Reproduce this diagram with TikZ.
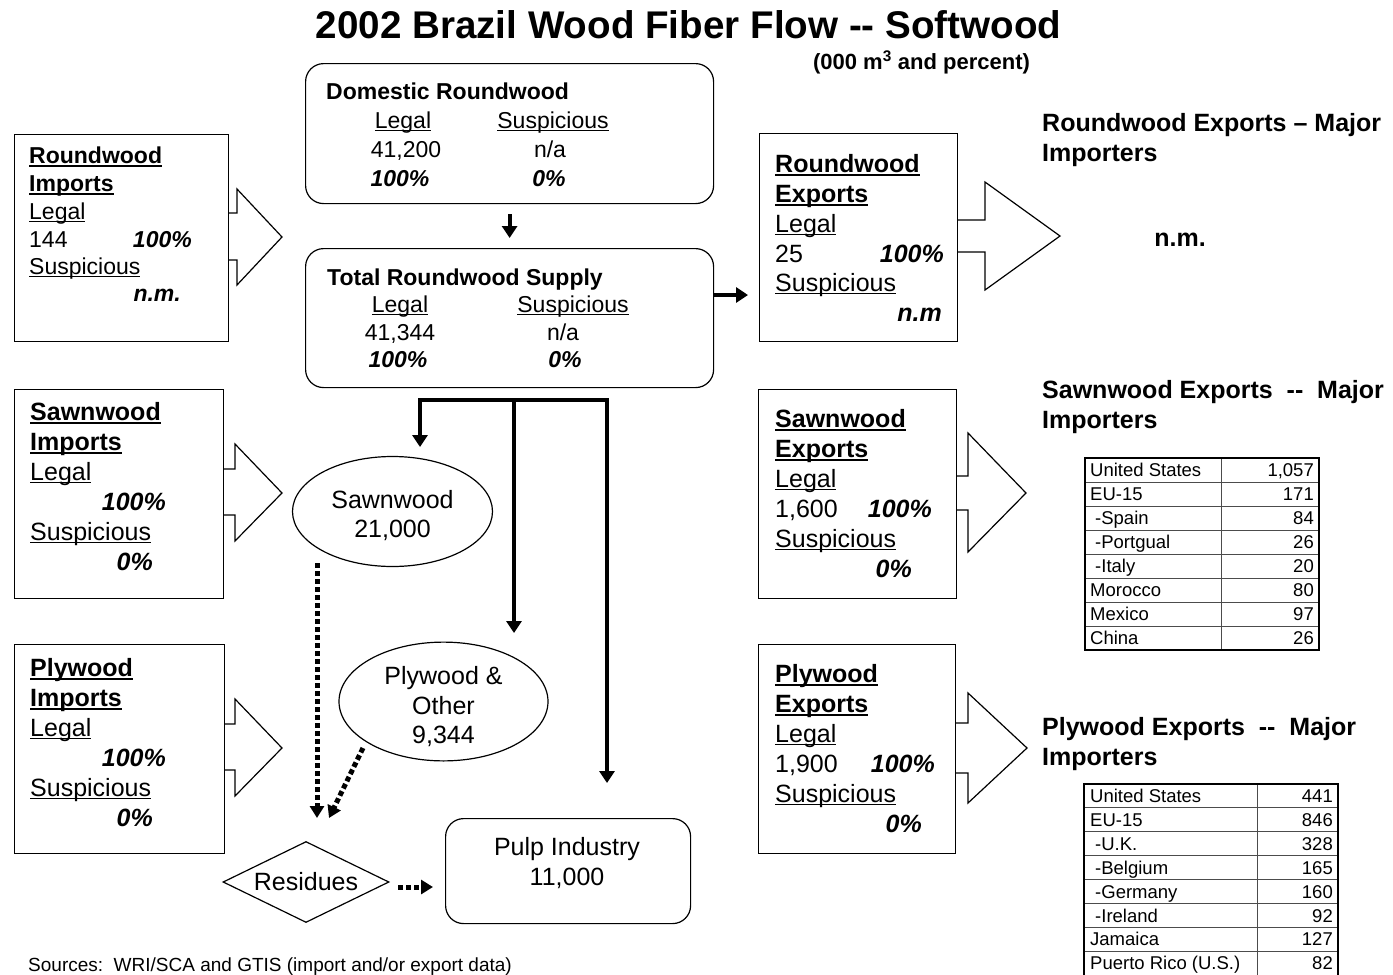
\documentclass[tikz,border=0pt]{standalone}
\usepackage{fontspec}
\setmainfont{Liberation Sans}
\usetikzlibrary{shapes.geometric,arrows.meta}
\newcommand\ulb[1]{\setbox0=\hbox{#1}\rlap{\rule[-3.6pt]{\wd0}{2pt}}\box0}
\newcommand\ulr[1]{\setbox0=\hbox{#1}\rlap{\rule[-3.2pt]{\wd0}{1.5pt}}\box0}
\newcommand\fszA{\fontsize{23pt}{28pt}\selectfont}
\newcommand\fszB{\fontsize{25pt}{29.5pt}\selectfont}
\newcommand\fszT{\fontsize{18.5pt}{22pt}\selectfont}
\newcommand\fszS{\fontsize{19pt}{22pt}\selectfont}
\begin{document}
\begin{tikzpicture}[x=1pt,y=-1pt,
  box/.style={draw, line width=1.2pt, anchor=north west, inner sep=0pt},
  rbox/.style={box, rounded corners=18pt},
  tl/.style={anchor=base west, inner sep=0pt},
  tc/.style={anchor=base, inner sep=0pt},
  tr/.style={anchor=base east, inner sep=0pt},
  flow/.style={line width=4pt, -{Triangle[width=15pt,length=12pt]}},
  dflow/.style={line width=5pt, dash pattern=on 5pt off 3pt, -{Triangle[width=14pt,length=12pt]}},
  barrow/.style={draw, line width=1.2pt, fill=white, line join=miter},
  oval/.style={ellipse, draw, line width=1.2pt, inner sep=0pt, align=center, font=\fszB, text depth=0pt},
  tline/.style={line width=0.9pt, black!70},
  bi/.style={font=\fszB\bfseries\itshape},
  bia/.style={font=\fszA\bfseries\itshape}
]
\useasboundingbox (0,0) rectangle (1393,975);
\fill[white] (0,0) rectangle (1393,975);

% title
\node[tc, font=\fontsize{38.6pt}{44pt}\selectfont\bfseries] (title) at (688.5,38) {2002 Brazil Wood Fiber Flow -{}- Softwood};
\node[tc, font=\fontsize{22pt}{26pt}\selectfont\bfseries] (sub) at (921.5,69) {(000 m\textsuperscript{3} and percent)};

% block arrows (drawn before boxes)
\draw[barrow] (228,213) -- (237,213) -- (237,189) -- (282,237) -- (237,285) -- (237,260) -- (228,260);
\draw[barrow] (223,469) -- (235,469) -- (235,444) -- (282,493) -- (235,541) -- (235,515) -- (223,515);
\draw[barrow] (224,724) -- (235,724) -- (235,699) -- (282,748) -- (235,796) -- (235,770) -- (224,770);
\draw[barrow] (957,220) -- (985,220) -- (985,182) -- (1060,236) -- (985,290) -- (985,252) -- (957,252);
\draw[barrow] (956,476) -- (968,476) -- (968,433) -- (1026,493) -- (968,552) -- (968,510) -- (956,510);
\draw[barrow] (955,723) -- (968,723) -- (968,693) -- (1027,748) -- (968,803) -- (968,773) -- (955,773);

% boxes
\node[box, minimum width=214pt, minimum height=207pt] (ri) at (14,134) {};
\node[box, minimum width=209pt, minimum height=209pt] (si) at (14,389) {};
\node[box, minimum width=210pt, minimum height=209pt] (pi) at (14,644) {};
\node[box, minimum width=198pt, minimum height=208pt] (re) at (759,133) {};
\node[box, minimum width=198pt, minimum height=209pt] (se) at (758,389) {};
\node[box, minimum width=197pt, minimum height=209pt] (pe) at (758,644) {};
\node[rbox, minimum width=408pt, minimum height=140pt] (dom) at (305,63) {};
\node[rbox, minimum width=408pt, minimum height=139pt] (trs) at (305,248) {};
\node[rbox, minimum width=245pt, minimum height=105pt] (pulp) at (445,818) {};
\node[oval, text height=52pt, minimum width=200pt, minimum height=110pt] (saw) at (392.5,511.5) {Sawnwood\\21,000};
\node[oval, text height=84pt, minimum width=209pt, minimum height=115pt] (ply) at (443.5,701.5) {Plywood \&\\Other\\9,344};
\node[diamond, draw, line width=1.2pt, aspect=2, minimum width=166pt, minimum height=81pt, inner sep=0pt, font=\fszB] (res) at (306,882) {Residues};

% domestic roundwood
\node[tl, font=\fszA\bfseries] (domt) at (326,99) {Domestic Roundwood};
\node[tc, font=\fszA] (doml) at (403,128) {\ulr{Legal}};
\node[tc, font=\fszA] (doms) at (553,128) {\ulr{Suspicious}};
\node[tc, font=\fszA] (domv) at (406,157) {41,200};
\node[tc, font=\fszA] (domn) at (550,157) {n/a};
\node[tc, bia] (domp) at (400,186) {100\%};
\node[tc, bia] (domq) at (549,186) {0\%};

% total roundwood supply
\node[tl, font=\fszA\bfseries] (trst) at (327,285) {Total Roundwood Supply};
\node[tc, font=\fszA] (trsl) at (400,312) {\ulr{Legal}};
\node[tc, font=\fszA] (trss) at (573,312) {\ulr{Suspicious}};
\node[tc, font=\fszA] (trsv) at (400,340) {41,344};
\node[tc, font=\fszA] (trsn) at (563,340) {n/a};
\node[tc, bia] (trsp) at (398,367) {100\%};
\node[tc, bia] (trsq) at (565,367) {0\%};

% roundwood imports
\node[tl, font=\fszA] (ri1) at (29,163) {\ulb{\textbf{Roundwood}}};
\node[tl, font=\fszA] (ri2) at (29,191) {\ulb{\textbf{Imports}}};
\node[tl, font=\fszA] (ri3) at (29,219) {\ulr{Legal}};
\node[tl, font=\fszA] (ri4) at (29,247) {144};
\node[tr, bia] (ri4p) at (192,247) {100\%};
\node[tl, font=\fszA] (ri5) at (29,274) {\ulr{Suspicious}};
\node[tr, bia] (ri6) at (181,301) {n.m.};

% sawnwood imports
\node[tl, font=\fszB] (si1) at (30,420) {\ulb{\textbf{Sawnwood}}};
\node[tl, font=\fszB] (si2) at (30,450) {\ulb{\textbf{Imports}}};
\node[tl, font=\fszB] (si3) at (30,480) {\ulr{Legal}};
\node[tr, bi] (si4) at (166,510) {100\%};
\node[tl, font=\fszB] (si5) at (30,540) {\ulr{Suspicious}};
\node[tr, bi] (si6) at (153,570) {0\%};

% plywood imports
\node[tl, font=\fszB] (pi1) at (30,676) {\ulb{\textbf{Plywood}}};
\node[tl, font=\fszB] (pi2) at (30,706) {\ulb{\textbf{Imports}}};
\node[tl, font=\fszB] (pi3) at (30,736) {\ulr{Legal}};
\node[tr, bi] (pi4) at (166,766) {100\%};
\node[tl, font=\fszB] (pi5) at (30,796) {\ulr{Suspicious}};
\node[tr, bi] (pi6) at (153,826) {0\%};

% roundwood exports
\node[tl, font=\fszB] (re1) at (775,172) {\ulb{\textbf{Roundwood}}};
\node[tl, font=\fszB] (re2) at (775,202) {\ulb{\textbf{Exports}}};
\node[tl, font=\fszB] (re3) at (775,232) {\ulr{Legal}};
\node[tl, font=\fszB] (re4) at (775,262) {25};
\node[tr, bi] (re4p) at (944,262) {100\%};
\node[tl, font=\fszB] (re5) at (775,291) {\ulr{Suspicious}};
\node[tr, bi] (re6) at (942,321) {n.m};

% sawnwood exports
\node[tl, font=\fszB] (se1) at (775,427) {\ulb{\textbf{Sawnwood}}};
\node[tl, font=\fszB] (se2) at (775,457) {\ulb{\textbf{Exports}}};
\node[tl, font=\fszB] (se3) at (775,487) {\ulr{Legal}};
\node[tl, font=\fszB] (se4) at (775,517) {1,600};
\node[tr, bi] (se4p) at (932,517) {100\%};
\node[tl, font=\fszB] (se5) at (775,547) {\ulr{Suspicious}};
\node[tr, bi] (se6) at (912,577) {0\%};

% plywood exports
\node[tl, font=\fszB] (pe1) at (775,682) {\ulb{\textbf{Plywood}}};
\node[tl, font=\fszB] (pe2) at (775,712) {\ulb{\textbf{Exports}}};
\node[tl, font=\fszB] (pe3) at (775,742) {\ulr{Legal}};
\node[tl, font=\fszB] (pe4) at (775,772) {1,900};
\node[tr, bi] (pe4p) at (935,772) {100\%};
\node[tl, font=\fszB] (pe5) at (775,802) {\ulr{Suspicious}};
\node[tr, bi] (pe6) at (922,832) {0\%};

% headings on the right
\node[tl, font=\fszB\bfseries] (h1a) at (1042,131) {Roundwood Exports – Major};
\node[tl, font=\fszB\bfseries] (h1b) at (1042,161) {Importers};
\node[tc, font=\fszB\bfseries] (h1n) at (1180,246) {n.m.};
\node[tl, font=\fszB\bfseries] (h2a) at (1042,398) {Sawnwood Exports~~-{}-~~Major};
\node[tl, font=\fszB\bfseries] (h2b) at (1042,428) {Importers};
\node[tl, font=\fszB\bfseries] (h3a) at (1042,735) {Plywood Exports~~-{}-~~Major};
\node[tl, font=\fszB\bfseries] (h3b) at (1042,765) {Importers};

% pulp industry text
\node[tc, font=\fszB] (pulp1) at (567,855) {Pulp Industry};
\node[tc, font=\fszB] (pulp2) at (567,885) {11,000};

% sources
\node[tl, font=\fszS] (src) at (28,971) {Sources:~~WRI/SCA and GTIS (import and/or export data)};

% flows
\draw[flow, shorten <=10pt, shorten >=10pt] (dom) -- (trs);
\draw[flow, shorten >=11pt] (trs.east |- 0,295) -- (re.west |- 0,295);
\coordinate (split) at (514,400);
\coordinate (sawin) at (420,447);
\coordinate (plyin) at (514,633);
\coordinate (pulpin) at (607,783);
\draw[flow] (split) -| (sawin);
\draw[flow] (split) -| (pulpin);
\draw[flow] (split) -- (plyin);
\coordinate (d1a) at (317,563);
\coordinate (d1b) at (317,818);
\coordinate (d2a) at (363,748);
\coordinate (d2b) at (329,818);
\coordinate (d3a) at (398,887);
\coordinate (d3b) at (433,887);
\draw[dflow] (d1a) -- (d1b);
\draw[dflow] (d2a) -- (d2b);
\draw[dflow] (d3a) -- (d3b);

% table 1
\foreach \i in {1,...,7} \draw[tline] (1085,458+24*\i) -- (1319,458+24*\i);
\draw[tline] (1221,458) -- (1221,650);
\draw[line width=2pt] (1085,458) rectangle (1319,650);
\foreach [count=\i] \a/\b in {United States/{1,057}, EU-15/171, \hspace{5pt}-Spain/84, \hspace{5pt}-Portgual/26, \hspace{5pt}-Italy/20, Morocco/80, Mexico/97, China/26} {
  \node[tl, font=\fszT] (ta\i) at (1090,476.5+24*\i-24) {\a};
  \node[tr, font=\fszT] (tb\i) at (1314,476.5+24*\i-24) {\b};
}

% table 2
\foreach \i in {1,...,7} \draw[tline] (1084,784+23.9*\i) -- (1338,784+23.9*\i);
\draw[tline] (1257,784) -- (1257,976);
\draw[line width=2pt] (1084,784) rectangle (1338,975.5);
\foreach [count=\i] \a/\b in {United States/441, EU-15/846, \hspace{5pt}-U.K./328, \hspace{5pt}-Belgium/165, \hspace{5pt}-Germany/160, \hspace{5pt}-Ireland/92, Jamaica/127, Puerto Rico (U.S.)/82} {
  \node[tl, font=\fszT] (tc\i) at (1090,802.5+23.9*\i-23.9) {\a};
  \node[tr, font=\fszT] (td\i) at (1333,802.5+23.9*\i-23.9) {\b};
}
\end{tikzpicture}
\end{document}
